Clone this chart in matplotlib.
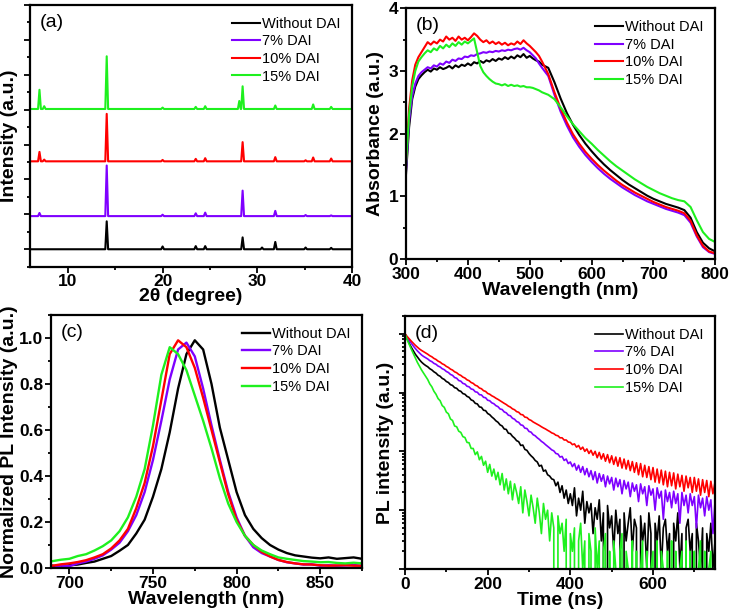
import numpy as np
import matplotlib
matplotlib.use("Agg")
import matplotlib.pyplot as plt
from matplotlib.ticker import MultipleLocator, LogLocator, NullFormatter

plt.rcParams['font.family'] = ['Liberation Sans', 'DejaVu Sans']

labels = ["Without DAI", "7% DAI", "10% DAI", "15% DAI"]
colors = ["#000000", "#7F00FF", "#FF0000", "#1EF01E"]

# (a) XRD : peak positions, peak heights per sample, stacking offsets
xrd_peaks = [7.0, 7.5, 14.1, 20.0, 23.5, 24.5, 28.1, 28.45, 30.5, 31.9, 35.1, 35.9, 37.8]
xrd_black = [0, 0, 0.80, 0.08, 0.09, 0.09, 0, 0.34, 0.05, 0.21, 0.05, 0, 0.04]
xrd_purple = [0.09, 0, 1.45, 0.04, 0.08, 0.10, 0, 0.73, 0, 0.15, 0.03, 0, 0.02]
xrd_red = [0.27, 0.05, 1.36, 0.04, 0.07, 0.09, 0, 0.55, 0, 0.12, 0.03, 0.11, 0.08]
xrd_green = [0.55, 0.08, 1.51, 0.04, 0.06, 0.08, 0.23, 0.65, 0, 0.10, 0, 0.13, 0.06]
xrd_offset = [0.0, 0.95, 2.52, 4.02]

# (b) absorbance
abs_wl = np.concatenate([np.arange(300, 521, 5), np.arange(530, 801, 10)])
abs_black = [1.35, 2.1, 2.55, 2.75, 2.87, 2.93, 2.98, 3.02, 2.99, 3.04,
             3.02, 3.06, 3.03, 3.05, 3.08, 3.04, 3.09, 3.06, 3.1, 3.08,
             3.12, 3.09, 3.14, 3.12, 3.16, 3.13, 3.17, 3.15, 3.19, 3.16,
             3.2, 3.18, 3.22, 3.19, 3.23, 3.2, 3.25, 3.22, 3.27, 3.21,
             3.24, 3.2, 3.17, 3.15, 3.1,
             3.05, 2.82, 2.56, 2.33, 2.14, 1.98, 1.84, 1.72, 1.61, 1.51,
             1.42, 1.34, 1.26, 1.19, 1.13, 1.07, 1.01, 0.96, 0.92, 0.88,
             0.85, 0.82, 0.78, 0.66, 0.43, 0.26, 0.17, 0.12]
abs_purple = [1.4, 2.2, 2.6, 2.8, 2.92, 2.98, 3.02, 3.06, 3.04, 3.09,
              3.07, 3.12, 3.1, 3.15, 3.13, 3.18, 3.16, 3.2, 3.19, 3.23,
              3.22, 3.25, 3.24, 3.27, 3.28, 3.3, 3.29, 3.31, 3.3, 3.32,
              3.31, 3.33, 3.32, 3.34, 3.33, 3.35, 3.36, 3.34, 3.37, 3.33,
              3.3, 3.25, 3.2, 3.12, 3.05,
              2.92, 2.62, 2.35, 2.13, 1.94, 1.79, 1.66, 1.55, 1.45, 1.36,
              1.28, 1.21, 1.14, 1.08, 1.02, 0.97, 0.92, 0.88, 0.84, 0.8,
              0.77, 0.74, 0.7, 0.58, 0.36, 0.19, 0.11, 0.08]
abs_red = [1.55, 2.4, 2.85, 3.1, 3.22, 3.3, 3.38, 3.46, 3.42, 3.47,
           3.44, 3.5, 3.47, 3.55, 3.5, 3.53, 3.48, 3.55, 3.5, 3.53,
           3.49, 3.54, 3.6, 3.56, 3.5, 3.46, 3.49, 3.44, 3.47, 3.43,
           3.46, 3.42, 3.45, 3.41, 3.44, 3.42, 3.47, 3.43, 3.49, 3.44,
           3.4, 3.35, 3.3, 3.24, 3.15,
           2.95, 2.66, 2.4, 2.18, 1.99, 1.84, 1.71, 1.6, 1.5, 1.41,
           1.33, 1.25, 1.18, 1.12, 1.06, 1.01, 0.96, 0.91, 0.87, 0.83,
           0.8, 0.77, 0.73, 0.61, 0.38, 0.21, 0.12, 0.09]
abs_green = [1.5, 2.3, 2.75, 3.0, 3.15, 3.22, 3.28, 3.33, 3.3, 3.36,
             3.33, 3.4, 3.36, 3.42, 3.38, 3.44, 3.4, 3.46, 3.42, 3.47,
             3.44, 3.48, 3.52, 3.3, 3.08, 2.98, 2.92, 2.87, 2.83, 2.8,
             2.79, 2.77, 2.79, 2.76, 2.78, 2.76, 2.77, 2.75, 2.76, 2.74,
             2.74, 2.73, 2.71, 2.69, 2.66,
             2.62, 2.55, 2.42, 2.28, 2.15, 2.04, 1.93, 1.84, 1.74, 1.65,
             1.56, 1.48, 1.41, 1.34, 1.27, 1.21, 1.15, 1.1, 1.05, 1.01,
             0.97, 0.94, 0.92, 0.83, 0.62, 0.43, 0.32, 0.27]

# (c) normalized PL
pl_wl = np.arange(690, 876, 5)
pl_black = [0.01, 0.005, 0.012, 0.015, 0.022, 0.028, 0.04, 0.052, 0.075, 0.1,
            0.15, 0.21, 0.31, 0.43, 0.59, 0.78, 0.93, 0.99, 0.95, 0.8,
            0.61, 0.47, 0.33, 0.23, 0.17, 0.13, 0.1, 0.08, 0.065, 0.055,
            0.05, 0.045, 0.042, 0.046, 0.04, 0.043, 0.046, 0.04]
pl_purple = [0.0, 0.01, 0.008, 0.02, 0.028, 0.04, 0.055, 0.08, 0.11, 0.16,
             0.23, 0.33, 0.47, 0.64, 0.82, 0.95, 0.98, 0.92, 0.78, 0.62,
             0.47, 0.33, 0.22, 0.14, 0.09, 0.065, 0.05, 0.035, 0.025, 0.02,
             0.015, 0.016, 0.01, 0.012, 0.01, 0.011, 0.013, 0.01]
pl_red = [0.01, 0.016, 0.02, 0.026, 0.034, 0.046, 0.06, 0.085, 0.12, 0.17,
          0.26, 0.37, 0.53, 0.73, 0.93, 0.99, 0.96, 0.87, 0.74, 0.6,
          0.46, 0.32, 0.21, 0.14, 0.1, 0.07, 0.05, 0.035, 0.026, 0.02,
          0.016, 0.015, 0.012, 0.01, 0.011, 0.012, 0.01, 0.01]
pl_green = [0.03, 0.036, 0.04, 0.052, 0.06, 0.076, 0.095, 0.12, 0.16, 0.22,
            0.31, 0.43, 0.62, 0.84, 0.96, 0.93, 0.86, 0.75, 0.64, 0.52,
            0.39, 0.28, 0.2, 0.14, 0.1, 0.076, 0.06, 0.046, 0.04, 0.035,
            0.03, 0.028, 0.025, 0.026, 0.022, 0.02, 0.023, 0.02]

# (d) TRPL counts, 5 ns steps
trpl_t = np.arange(0, 751, 5)
trpl_black = [10000, 8200, 6900, 5900, 5150, 4480, 4020, 3610, 3290, 3060,
              2880, 2740, 2540, 2420, 2250, 2140, 1970, 1890, 1740, 1670,
              1540, 1480, 1360, 1320, 1210, 1180, 1080, 1050, 960, 935,
              860, 830, 750, 725, 655, 640, 570, 560, 500, 492,
              440, 420, 385, 360, 330, 312, 282, 270, 240, 236,
              204, 200, 180, 168, 152, 146, 126, 128, 108, 104,
              92, 84, 78, 70, 66, 56, 58, 46, 48, 40,
              38, 34, 33, 26, 30, 20, 26, 16, 22, 13,
              19, 12, 24, 8, 16, 10, 21, 6, 14, 9,
              13, 4, 11, 7, 15, 3, 9, 0, 12, 5,
              8, 2, 10, 4, 7, 0, 9, 3, 6, 11,
              2, 7, 5, 0, 8, 3, 6, 1, 9, 4,
              0, 6, 3, 8, 1, 5, 7, 2, 4, 0,
              6, 3, 9, 1, 4, 0, 5, 7, 2, 4,
              0, 6, 3, 1, 5, 0, 4, 2, 6, 1,
              3]
trpl_purple = [10000, 8700, 7700, 6900, 6200, 5600, 5100, 4700, 4350, 4100,
               3900, 3720, 3480, 3350, 3130, 3020, 2820, 2720, 2540, 2450,
               2280, 2190, 2030, 1960, 1800, 1750, 1600, 1560, 1430, 1395,
               1280, 1250, 1150, 1125, 1030, 1010, 920, 910, 830, 815,
               740, 725, 668, 645, 598, 575, 525, 515, 468, 452,
               412, 402, 365, 352, 322, 312, 282, 276, 248, 244,
               218, 212, 192, 184, 170, 160, 148, 140, 130, 122,
               114, 106, 102, 92, 90, 80, 82, 70, 74, 62,
               66, 55, 62, 48, 58, 44, 55, 40, 51, 37,
               47, 33, 45, 29, 42, 31, 40, 25, 38, 28,
               36, 22, 35, 25, 33, 19, 32, 23, 30, 17,
               29, 21, 27, 14, 28, 19, 25, 12, 26, 18,
               23, 10, 24, 16, 21, 7, 22, 14, 20, 11,
               21, 13, 19, 6, 20, 12, 18, 9, 19, 12,
               17, 5, 18, 11, 16, 8, 17, 10, 15, 4,
               14]
trpl_red = [10000, 9000, 8200, 7500, 6900, 6350, 5900, 5500, 5200, 4950,
            4700, 4480, 4220, 4050, 3800, 3650, 3420, 3290, 3080, 2970,
            2780, 2670, 2500, 2410, 2250, 2170, 2030, 1955, 1830, 1765,
            1645, 1590, 1480, 1430, 1330, 1290, 1195, 1160, 1075, 1045,
            965, 935, 880, 845, 800, 765, 725, 690, 655, 625,
            588, 565, 528, 510, 474, 462, 424, 418, 382, 376,
            348, 336, 316, 302, 288, 276, 262, 250, 240, 228,
            218, 206, 200, 188, 184, 170, 170, 156, 156, 144,
            142, 130, 134, 118, 126, 108, 118, 100, 110, 92,
            104, 86, 100, 78, 96, 74, 91, 68, 88, 64,
            84, 60, 80, 56, 78, 52, 74, 50, 70, 47,
            67, 44, 64, 40, 62, 37, 58, 36, 55, 33,
            53, 30, 50, 29, 48, 27, 46, 25, 44, 26,
            43, 23, 41, 25, 39, 21, 38, 24, 36, 20,
            36, 21, 34, 18, 33, 20, 32, 17, 31, 19,
            30]
trpl_green = [10000, 8000, 6600, 5500, 4600, 3850, 3250, 2800, 2420, 2130,
              1880, 1660, 1400, 1250, 1050, 935, 790, 725, 600, 560,
              465, 435, 355, 335, 270, 262, 220, 210, 178, 172,
              142, 140, 112, 112, 88, 98, 72, 82, 58, 68,
              44, 60, 38, 50, 33, 44, 27, 42, 22, 34,
              19, 31, 15, 28, 20, 13, 25, 9, 22, 14,
              8, 18, 11, 6, 16, 9, 4, 13, 7, 10,
              3, 9, 5, 0, 8, 4, 6, 2, 7, 0,
              4, 2, 5, 0, 3, 6, 1, 3, 0, 4,
              2, 0, 5, 1, 3, 0, 2, 4, 0, 2,
              0, 3, 1, 0, 2, 4, 0, 2, 1, 0,
              3, 0, 2, 0, 1, 3, 0, 2, 0, 1,
              2, 0, 3, 0, 2, 1, 0, 2, 0, 3,
              0, 2, 0, 1, 2, 0, 3, 0, 2, 0,
              2, 0, 1, 3, 0, 2, 0, 1, 2, 0,
              2]

W, H = 732, 612
fig = plt.figure(figsize=(W / 100, H / 100), dpi=100)


def add_ax(left, top, right, bottom):
    return fig.add_axes([left / W, 1 - bottom / H, (right - left) / W, (bottom - top) / H])


def style(ax, tag, xlabel, ylabel, xl, yl):
    for s in ax.spines.values():
        s.set_linewidth(1.6)
    ax.tick_params(which='both', direction='out', width=1.3, top=False, right=False,
                   labelsize=12.5, pad=1.5)
    ax.tick_params(which='major', length=4)
    ax.tick_params(which='minor', length=2.5)
    for t in ax.get_xticklabels() + ax.get_yticklabels():
        t.set_fontweight('bold')
    ax.set_xlabel(xlabel, fontsize=14, fontweight='bold')
    ax.set_ylabel(ylabel, fontsize=14, fontweight='bold')
    ax.xaxis.set_label_coords(0.5, xl)
    ax.yaxis.set_label_coords(yl, 0.5)
    ax.text(0.03, 0.965, tag, transform=ax.transAxes, fontsize=14, ha='left', va='top')
    ax.legend(loc='upper right', frameon=False, fontsize=10.5,
              handlelength=1.9, handletextpad=0.15, labelspacing=0.25, borderaxespad=0.4)


# (a)
ax = add_ax(30, 5, 352, 266.7)
for heights, off, c, lab in zip([xrd_black, xrd_purple, xrd_red, xrd_green], xrd_offset, colors, labels):
    xs, ys = [6.0], [off]
    for p, h in zip(xrd_peaks, heights):
        if h > 0:
            xs += [p - 0.15, p, p + 0.15]
            ys += [off, off + h, off]
    xs.append(40.0)
    ys.append(off)
    ax.plot(xs, ys, color=c, lw=1.5, label=lab)
ax.set_xlim(6, 40)
ax.set_ylim(-0.5, 7)
ax.xaxis.set_major_locator(MultipleLocator(10))
ax.xaxis.set_minor_locator(MultipleLocator(5))
ax.yaxis.set_major_locator(MultipleLocator(1))
ax.yaxis.set_minor_locator(MultipleLocator(0.5))
ax.set_yticklabels([])
style(ax, "(a)", "2θ (degree)", "Intensity (a.u.)", -0.082, -0.036)

# (b)
ax = add_ax(406, 8.3, 715.3, 259)
for y, c, lab in zip([abs_black, abs_purple, abs_red, abs_green], colors, labels):
    ax.plot(abs_wl, y, color=c, lw=1.5, label=lab)
ax.set_xlim(300, 800)
ax.set_ylim(0, 4)
ax.xaxis.set_major_locator(MultipleLocator(100))
ax.xaxis.set_minor_locator(MultipleLocator(50))
ax.yaxis.set_major_locator(MultipleLocator(1))
ax.yaxis.set_minor_locator(MultipleLocator(0.5))
style(ax, "(b)", "Wavelength (nm)", "Absorbance (a.u.)", -0.09, -0.072)

# (c)
ax = add_ax(51, 315, 362, 568)
for y, c, lab in zip([pl_black, pl_purple, pl_red, pl_green], colors, labels):
    ax.plot(pl_wl, y, color=c, lw=1.7, label=lab)
ax.set_xlim(689, 875)
ax.set_ylim(0, 1.1)
ax.xaxis.set_major_locator(MultipleLocator(50))
ax.xaxis.set_minor_locator(MultipleLocator(25))
ax.yaxis.set_major_locator(MultipleLocator(0.2))
ax.yaxis.set_minor_locator(MultipleLocator(0.1))
ax.yaxis.set_major_formatter(plt.FormatStrFormatter('%.1f'))
style(ax, "(c)", "Wavelength (nm)", "Normalized PL Intensity (a.u.)", -0.092, -0.105)

# (d)
ax = add_ax(405, 316, 715, 569)
for y, c, lab in zip([trpl_black, trpl_purple, trpl_red, trpl_green], colors, labels):
    ax.plot(trpl_t, y, color=c, lw=1.2, label=lab)
ax.set_yscale('log')
ax.set_xlim(0, 750)
ax.set_ylim(1, 2e4)
ax.xaxis.set_major_locator(MultipleLocator(200))
ax.xaxis.set_minor_locator(MultipleLocator(100))
ax.yaxis.set_major_locator(LogLocator(base=10))
ax.yaxis.set_minor_locator(LogLocator(base=10, subs=np.arange(2, 10)))
ax.yaxis.set_major_formatter(NullFormatter())
ax.yaxis.set_minor_formatter(NullFormatter())
style(ax, "(d)", "Time (ns)", "PL intensity (a.u.)", -0.09, -0.036)

fig.savefig("out.png", dpi=100)
